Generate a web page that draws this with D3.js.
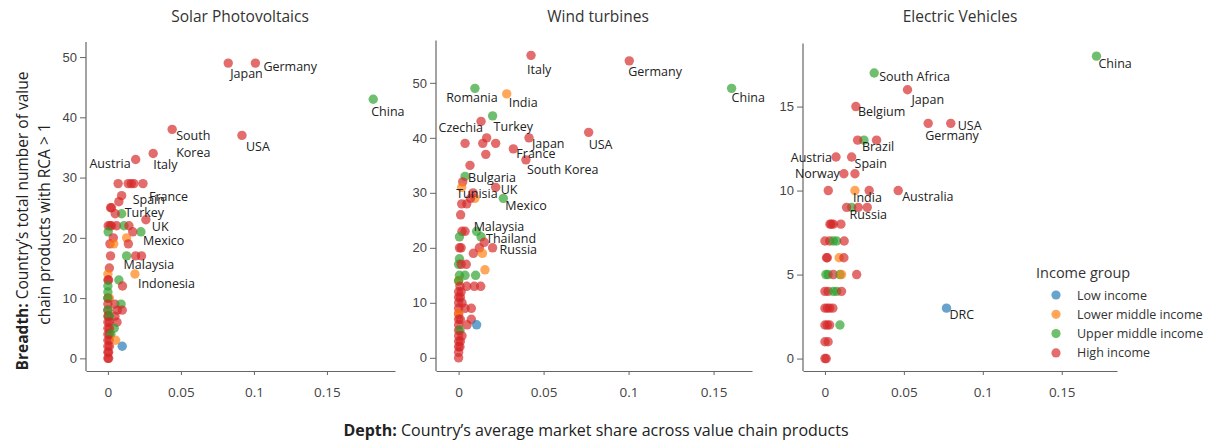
<!DOCTYPE html>
<html>
<head>
<meta charset="utf-8">
<script src="https://cdn.jsdelivr.net/npm/d3@7"></script>
<style>
  html, body { margin: 0; padding: 0; background: #fff; }
  svg { display: block; font-family: "Open Sans", "Noto Sans", sans-serif; }
</style>
</head>
<body>
<svg id="chart" width="1215" height="443"></svg>
<script>
// ---- Data -------------------------------------------------------------
// Income group codes: L = Low, LM = Lower middle, UM = Upper middle, H = High
const incomeGroups = ["L", "LM", "UM", "H"];
const incomeLabels = ["Low income", "Lower middle income", "Upper middle income", "High income"];
const incomeColors = ["#1f77b4", "#ff7f0e", "#2ca02c", "#d62728"];

const panelTitles = ["Solar Photovoltaics", "Wind turbines", "Electric Vehicles"];
const xTickValues = [0, 0.05, 0.1, 0.15];
const xTickLabels = ["0", "0.05", "0.1", "0.15"];
const yTickValues = [[0, 10, 20, 30, 40, 50], [0, 10, 20, 30, 40, 50], [0, 5, 10, 15]];

// Solar Photovoltaics
const solarCountry = ["Japan","Germany","China","South Korea","USA","Italy","Austria","France","Spain","Turkey","UK","Mexico","Malaysia","Indonesia",
  "","","","","","","","","","","","","","","","","","","","","","","","","","","","","","","","","","","","","","","","","","","","","","","","","","","","","","","","","","","","","","",""];
const solarDepth = [0.0824,0.101,0.1817,0.044,0.0918,0.031,0.019,0.024,0.0094,0.0094,0.026,0.0226,0.0128,0.0185,
  0.007,0.0139,0.016,0.0178,0.0075,0.0018,0.0025,0.005,
  0.0002,0.0015,0.0025,0.006,0.011,0.0144,0.0002,0.017,0.0037,0.0128,0.0014,0.004,0.014,
  0.0018,0.019,0.023,0.001,0.0,0.0,0.0075,0.0005,0.0,0.01,0.0,0.0,0.001,0.0,
  0.0,0.0048,0.009,0.0,0.0064,0.0098,0.0,0.0,0.0005,0.0048,0.001,0.0,0.0062,0.001,
  0.0,0.0043,0.001,0.0,0.001,0.002,0.0,0.001,0.0053,0.0,0.0098,0.001,0.0,0.0005,0.0,0.0005];
const solarBreadth = [49,49,43,38,37,34,33,29,27,24,23,21,17,14,
  29,29,29,29,26,25,25,24,
  22,22,22,22,22,22,21,21,20,20,19,19,19,
  17,17,17,15,14,13,13,13,12,12,11,10,10,10,
  9,9,9,8,8,8,8,7,7,7,7,6,6,6,
  5,5,5,4,4,4,3,3,3,2,2,2,1,1,0,0];
const solarGroup = ["H","H","UM","H","H","H","H","H","H","UM","H","UM","UM","LM",
  "H","H","H","H","H","H","H","H",
  "H","H","H","H","UM","H","UM","H","H","LM","H","LM","H",
  "H","H","H","H","LM","H","UM","H","UM","H","UM","H","LM","UM",
  "H","H","UM","H","H","H","UM","H","H","H","UM","H","H","H",
  "H","UM","H","H","H","UM","H","H","LM","H","L","H","H","H","H","H"];

// Wind turbines
const windCountry = ["Italy","Germany","China","Romania","India","Turkey","Czechia","USA","Japan","France","South Korea","Bulgaria","UK","Tunisia","Mexico","Malaysia","Thailand","Russia",
  "","","","","","","","","","","","","","","","","","","","","","","","","","","","","","","","","","","","","","","","","","","","","","","","","","","","","","","","","","","","","",""];
const windDepth = [0.0426,0.1004,0.1606,0.0096,0.0283,0.02,0.0132,0.0765,0.0414,0.0322,0.0396,0.0038,0.0218,0.0096,0.0263,0.0106,0.0132,0.02,
  0.0165,0.0038,0.0142,0.0218,0.016,0.0067,0.0024,0.0018,0.0085,0.007,0.0018,0.0048,0.0012,0.002,0.0038,
  0.0005,0.0151,0.0005,0.0015,0.0122,0.0087,0.014,0.0005,0.0,0.0015,0.0045,0.0155,0.0005,0.0038,0.01,
  0.0,0.0,0.0008,0.0048,0.0092,0.013,0.0,0.0015,0.0,0.001,0.0,0.002,0.0,0.0038,0.0075,
  0.0,0.0,0.0,0.0075,0.001,0.0106,0.0,0.005,0.0,0.0008,0.0,0.002,0.0,0.001,0.0,0.0008,0.0,0.0];
const windBreadth = [55,54,49,49,48,44,43,41,40,38,36,33,31,29,29,23,22,20,
  40,39,39,39,37,35,32,31,30,29,28,28,26,23,23,
  22,21,20,20,20,19,19,18,17,17,17,16,15,15,15,
  14,14,13,13,13,13,12,12,11,11,10,10,9,9,9,
  8,8,7,7,7,6,6,6,5,5,4,4,3,3,2,2,1,0];
const windGroup = ["H","H","UM","UM","LM","UM","H","H","H","H","H","UM","H","LM","UM","UM","UM","H",
  "H","H","H","H","H","H","H","LM","H","H","H","H","H","H","H",
  "UM","H","H","H","H","H","LM","UM","UM","H","H","LM","UM","UM","UM",
  "LM","UM","H","H","H","H","H","H","H","H","H","H","H","H","H",
  "H","LM","H","H","H","L","H","H","H","UM","H","H","H","H","H","H","H","H"];

// Electric Vehicles
const evCountry = ["China","South Africa","Japan","Belgium","USA","Germany","Brazil","Austria","Spain","Norway","India","Australia","Russia","DRC",
  "","","","","","","","","","","","","","","","","","","","","","","","","","","","","","","","","","","","","","","","",""];
const evDepth = [0.172,0.0312,0.0523,0.0196,0.0797,0.0654,0.0247,0.007,0.0169,0.012,0.019,0.0464,0.0169,0.077,
  0.0207,0.0327,0.019,0.0021,0.028,0.0137,0.0211,0.0268,
  0.0032,0.0053,0.0101,0.004,
  0.0,0.003,0.0053,0.0074,0.0122,
  0.001,0.0015,0.009,0.012,
  0.0006,0.002,0.0053,0.0095,0.0105,0.0201,
  0.0,0.002,0.0053,0.0074,0.0105,
  0.0,0.0015,0.003,0.005,
  0.0,0.0015,0.003,0.0095,
  0.0,0.002,0.0,0.0008];
const evBreadth = [18,17,16,15,14,14,13,12,12,11,10,10,9,3,
  13,13,11,10,10,9,9,9,
  8,8,8,8,
  7,7,7,7,7,
  6,6,6,6,
  5,5,5,5,5,5,
  4,4,4,4,4,
  3,3,3,3,
  2,2,2,2,
  1,1,0,0];
const evGroup = ["UM","UM","H","H","H","H","UM","H","H","H","LM","H","UM","L",
  "H","H","H","H","H","H","H","H",
  "H","H","H","H",
  "H","H","UM","UM","H",
  "H","H","LM","H",
  "UM","UM","H","UM","LM","H",
  "H","H","UM","UM","H",
  "H","H","H","H",
  "H","H","H","UM",
  "H","H","H","H"];

// ---- Layout -----------------------------------------------------------
const panels = [
  { title: panelTitles[0], country: solarCountry, depth: solarDepth, breadth: solarBreadth, group: solarGroup,
    xDomain: [-0.015, 0.1966], xRange: [86, 395], yDomain: [-2.1, 52.5], yRange: [371, 42], yTicks: yTickValues[0], titleX: 240,
    labels: {
      "Japan": [2, 15, "start"], "Germany": [8, 7.5, "start"], "China": [-2, 17, "start"],
      "South Korea": [4, 10.5, "start", ["South", "Korea"]], "USA": [4, 15.5, "start"], "Italy": [0, 16, "start"],
      "Austria": [-5, 8.5, "end"], "France": [6, 17.5, "start"], "Spain": [11, 8, "start"],
      "Turkey": [3, 3.5, "start"], "UK": [6, 11, "start"], "Mexico": [2, 13, "start"],
      "Malaysia": [-3, 13, "start"], "Indonesia": [3, 14.5, "start"]
    } },
  { title: panelTitles[1], country: windCountry, depth: windDepth, breadth: windBreadth, group: windGroup,
    xDomain: [-0.0133, 0.1726], xRange: [436, 752], yDomain: [-2.4, 57.7], yRange: [371, 40.5], yTicks: yTickValues[1], titleX: 598,
    labels: {
      "Italy": [-4, 19, "start"], "Germany": [-1, 15.5, "start"], "China": [0, 14, "start"],
      "Romania": [-3, 14, "middle"], "India": [2, 13, "start"], "Czechia": [2, 10.5, "end"],
      "Turkey": [1, 15.5, "start"], "Japan": [3, 10, "start"], "USA": [0, 16.5, "start"],
      "France": [3, 9.5, "start"], "South Korea": [1, 14.5, "start"], "Bulgaria": [3, 6, "start"],
      "UK": [5, 7, "start"], "Tunisia": [2, 0, "middle"], "Mexico": [2, 12, "start"],
      "Malaysia": [-3, -0.5, "start"], "Thailand": [5, 6, "start"], "Russia": [7, 6, "start"]
    } },
  { title: panelTitles[2], country: evCountry, depth: evDepth, breadth: evBreadth, group: evGroup,
    xDomain: [-0.0139, 0.185], xRange: [803, 1117], yDomain: [-0.74, 18.76], yRange: [371, 43.4], yTicks: yTickValues[2], titleX: 960,
    labels: {
      "China": [2, 11.5, "start"], "South Africa": [5, 8.5, "start"], "Japan": [4, 14, "start"],
      "Belgium": [2, 9, "start"], "USA": [7, 7, "start"], "Germany": [-3, 16.5, "start"],
      "Brazil": [-2, 10.5, "start"], "Austria": [-4, 5, "end"], "Spain": [3, 11.5, "start"],
      "Norway": [-4, 4.5, "end"], "India": [-2, 11, "start"], "Australia": [4, 10, "start"],
      "Russia": [-2, 12, "start"], "DRC": [3, 11, "start"]
    } }
];

const svg = d3.select("#chart");
const color = d3.scaleOrdinal().domain(incomeGroups).range(incomeColors);
const axisColor = "#666";
const tickTextColor = "#444";

panels.forEach(p => {
  const x = d3.scaleLinear().domain(p.xDomain).range(p.xRange);
  const y = d3.scaleLinear().domain(p.yDomain).range(p.yRange);
  const g = svg.append("g");

  // panel title
  g.append("text")
    .attr("x", p.titleX).attr("y", 22)
    .attr("text-anchor", "middle")
    .attr("font-size", 15.5).attr("fill", "#333")
    .text(p.title);

  // y axis
  const yAxis = g.append("g")
    .attr("transform", `translate(${p.xRange[0]},0)`)
    .call(d3.axisLeft(y).tickValues(p.yTicks).tickSize(6).tickSizeOuter(0).tickPadding(3).tickFormat(d3.format("d")));
  // x axis
  const xAxis = g.append("g")
    .attr("transform", `translate(0,${p.yRange[0]})`)
    .call(d3.axisBottom(x).tickValues(xTickValues).tickSize(4).tickSizeOuter(0).tickPadding(12)
      .tickFormat((d, i) => xTickLabels[i]));

  [yAxis, xAxis].forEach(ax => {
    ax.select(".domain").attr("stroke", axisColor).attr("stroke-width", 1.2);
    ax.selectAll(".tick line").attr("stroke", axisColor);
    ax.selectAll(".tick text").attr("fill", tickTextColor).attr("font-size", 13);
  });
  yAxis.select(".domain").attr("d", `M0,${p.yRange[1]}V${p.yRange[0]}`);
  xAxis.selectAll(".tick text")
    .attr("font-family", "'Liberation Sans Narrow', 'Open Sans', sans-serif")
    .attr("font-size", 13.5);

  // points
  const idx = d3.range(p.depth.length);
  g.append("g").selectAll("circle")
    .data(idx)
    .join("circle")
    .attr("cx", i => x(p.depth[i]))
    .attr("cy", i => y(p.breadth[i]))
    .attr("r", 4.7)
    .attr("fill", i => color(p.group[i]))
    .attr("fill-opacity", 0.68);

  // country labels
  const lg = g.append("g").attr("font-size", 12.5).attr("fill", "#222");
  idx.filter(i => p.country[i]).forEach(i => {
    const spec = p.labels[p.country[i]] || [4, 12, "start"];
    const cx = x(p.depth[i]) + spec[0];
    const cy = y(p.breadth[i]) + spec[1];
    const t = lg.append("text").attr("x", cx).attr("y", cy).attr("text-anchor", spec[2]);
    if (spec[3]) {
      spec[3].forEach((line, k) => {
        t.append("tspan").attr("x", cx).attr("dy", k === 0 ? 0 : 17.5).text(line);
      });
    } else {
      t.text(p.country[i]);
    }
  });
});

// legend
const legend = svg.append("g").attr("transform", "translate(1036,0)");
legend.append("text")
  .attr("x", 0).attr("y", 278)
  .attr("font-size", 14.5).attr("fill", "#333")
  .text("Income group");
incomeGroups.forEach((gKey, k) => {
  const yy = 295 + k * 19.3;
  legend.append("circle")
    .attr("cx", 20).attr("cy", yy).attr("r", 4.6)
    .attr("fill", color(gKey)).attr("fill-opacity", 0.68);
  legend.append("text")
    .attr("x", 41).attr("y", yy + 4.5)
    .attr("font-size", 12.5).attr("fill", "#333")
    .text(incomeLabels[k]);
});

// shared axis titles
const yTitle = svg.append("text")
  .attr("transform", "rotate(-90)")
  .attr("text-anchor", "middle")
  .attr("font-size", 15.5).attr("fill", "#222");
yTitle.append("tspan").attr("x", -221).attr("y", 28)
  .attr("font-weight", "bold").text("Breadth:");
yTitle.append("tspan").text(" Country’s total number of value");
yTitle.append("tspan").attr("x", -224).attr("y", 50).text("chain products with RCA > 1");

const xTitle = svg.append("text")
  .attr("x", 596).attr("y", 436)
  .attr("text-anchor", "middle")
  .attr("font-size", 16).attr("fill", "#222")
  .attr("font-family", "'Liberation Sans Narrow', 'Open Sans', sans-serif");
xTitle.append("tspan").attr("font-weight", "bold").text("Depth:");
xTitle.append("tspan").text(" Country’s average market share across value chain products");
</script>
</body>
</html>
